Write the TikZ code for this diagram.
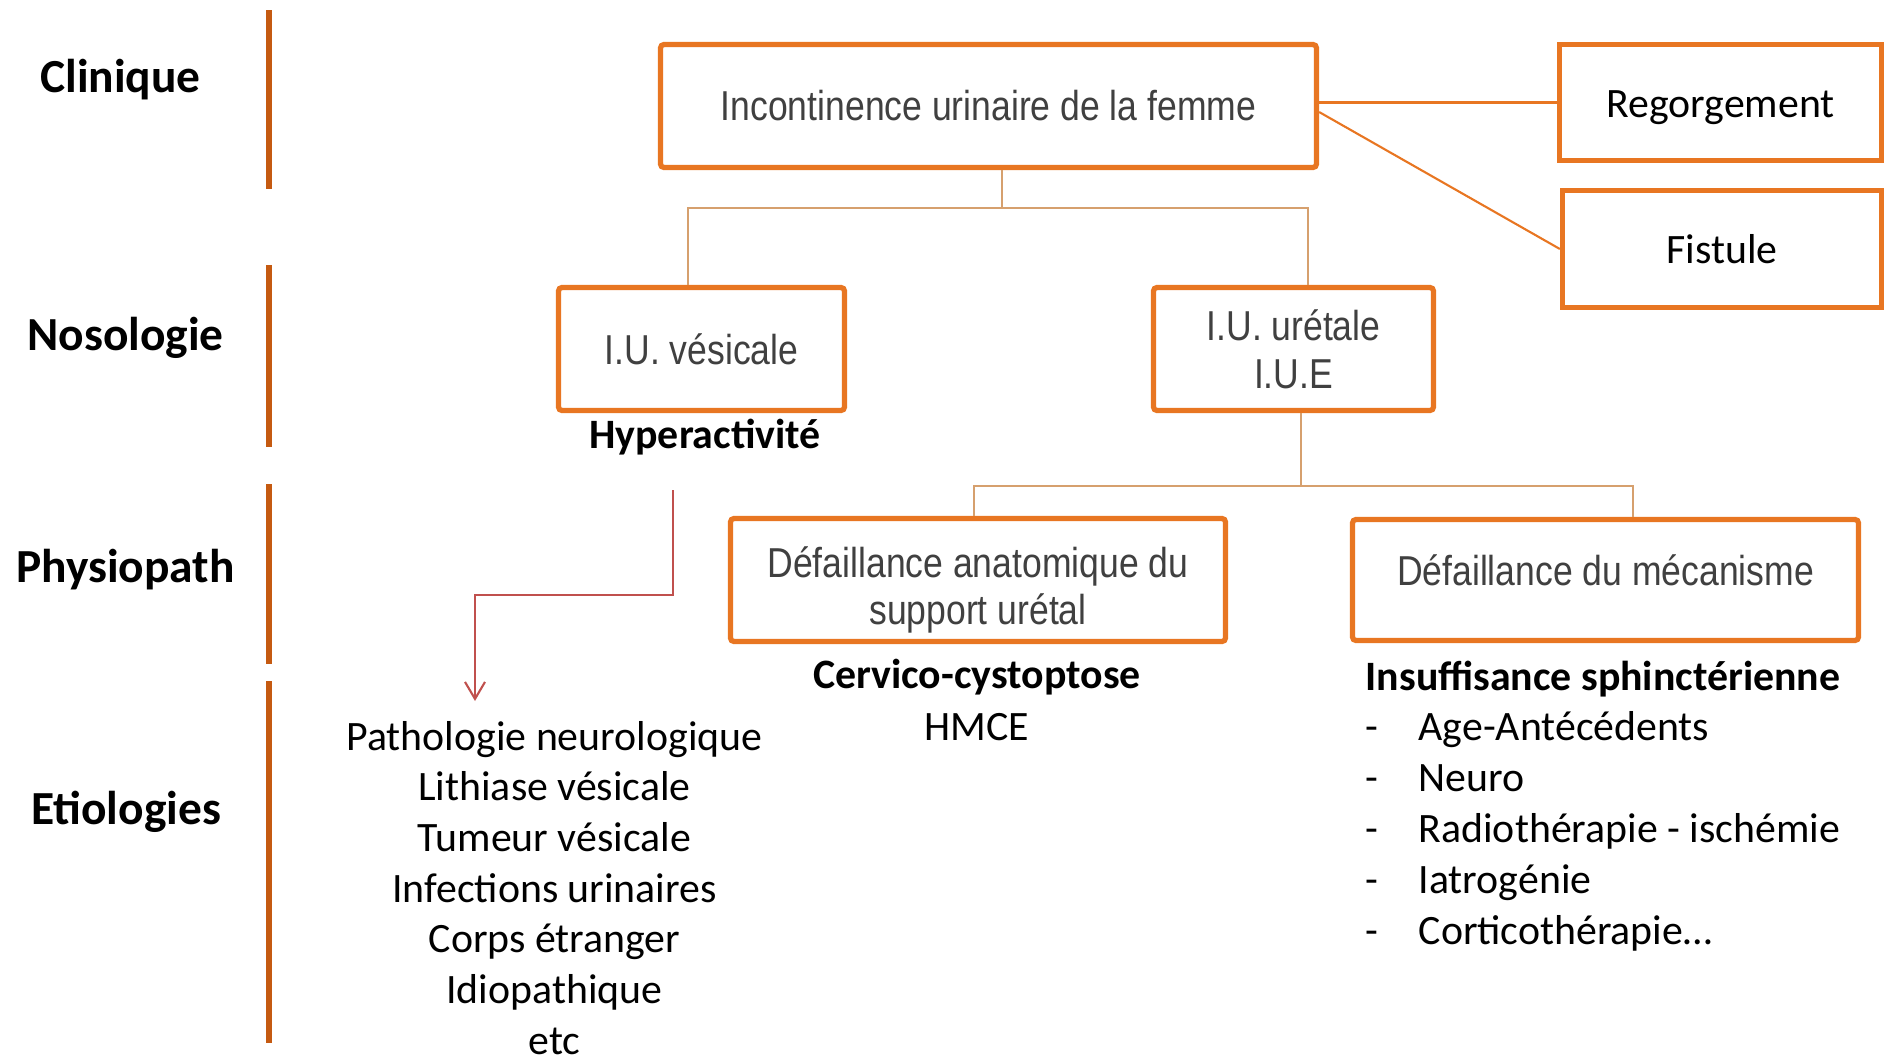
\documentclass[tikz,border=0pt]{standalone}
\usepackage{fontspec}
\setmainfont{Carlito}
\newfontfamily\boxfont[FakeStretch=0.85]{Liberation Sans}
\usetikzlibrary{arrows.meta}
\definecolor{cadre}{RGB}{232,118,34}
\definecolor{lien}{RGB}{214,160,110}
\definecolor{brun}{HTML}{C55A11}
\definecolor{rouge}{HTML}{C0504D}
\definecolor{gristexte}{RGB}{64,64,64}
\tikzset{>/.tip={Straight Barb[length=1.7mm,width=2mm]},
  boite/.style={draw=cadre, line width=1.5pt, rounded corners=1pt, fill=white,
    text=gristexte, align=center, font=\boxfont\fontsize{11.9}{13.6}\selectfont},
  boitecal/.style={draw=cadre, line width=1.5pt, fill=white},
  rubrique/.style={anchor=base, font=\fontsize{13.5}{16}\selectfont\bfseries},
  barre/.style={draw=brun, line width=1.7pt},
  branche/.style={draw=lien, line width=0.6pt},
  renvoi/.style={draw=cadre, line width=0.6pt},
  fleche/.style={->, draw=rouge, line width=0.6pt}}

\begin{document}
\begin{tikzpicture}[font=\fontsize{11.9}{14.3}\selectfont, inner sep=0pt]
 \useasboundingbox (0,0) rectangle (18.84,10.61);

 % rubriques
 \node[rubrique] (clin) at (1.205,9.69) {Clinique};
 \node[rubrique] (noso) at (1.255,7.11) {Nosologie};
 \node[rubrique] (phys) at (1.255,4.79) {Physiopath};
 \node[rubrique] (etio) at (1.26,2.37) {Etiologies};
 \foreach \haut/\bas in {10.51/8.72, 7.96/6.14, 5.77/3.97, 3.80/0.18}
   \draw[barre] (2.69,\haut) -- (2.69,\bas);

 % arbre
 \node[boite, minimum width=6.56cm, minimum height=1.23cm] (iu) at (9.885,9.55) {Incontinence urinaire de la femme};
 \node[boitecal, minimum width=3.22cm, minimum height=1.16cm, text height=0.37cm] (regorg) at (17.205,9.585) {Regorgement};
 \node[boitecal, minimum width=3.19cm, minimum height=1.17cm] (fistule) at (17.22,8.12) {Fistule};
 \node[boite, minimum width=2.86cm, minimum height=1.23cm] (vesicale) at (7.015,7.12) {I.U. vésicale};
 \node[boite, minimum width=2.80cm, minimum height=1.23cm] (uretale) at (12.935,7.12) {I.U. urétale\\I.U.E};
 \node[boite, minimum width=4.95cm, minimum height=1.23cm] (anatom) at (9.78,4.81) {\rule{0pt}{14.4pt}Défaillance anatomique du\\support urétal};
 \node[boite, minimum width=5.06cm, minimum height=1.21cm, text depth=0.2cm] (meca) at (16.055,4.81) {Défaillance du mécanisme};

 \draw[renvoi] (iu.east |- regorg.west) -- (regorg.west);
 \draw[renvoi] ([yshift=-0.06cm]iu.east) -- (fistule.west);

 \coordinate (fourche1) at (10.02,8.53);
 \draw[branche] (iu.south -| fourche1) -- (fourche1);
 \draw[branche] ([xshift=-0.135cm]vesicale.north) |- (fourche1) -| ([xshift=0.145cm]uretale.north);
 \coordinate (fourche2) at (13.01,5.75);
 \draw[branche] (uretale.south -| fourche2) -- (fourche2);
 \draw[branche] ([xshift=-0.04cm]anatom.north) |- (fourche2) -| ([xshift=0.275cm]meca.north);

 % legendes sous les cadres
 \node[anchor=base, font=\fontsize{11.9}{14.3}\selectfont\bfseries] (hyper) at (7.05,6.13) {Hyperactivité};
 \node[anchor=base, font=\fontsize{11.9}{14.3}\selectfont\bfseries] (cervico) at (9.77,3.73) {Cervico-cystoptose};
 \node[anchor=base] (hmce) at (9.77,3.21) {HMCE};
 \node[anchor=base west, font=\fontsize{11.9}{14.3}\selectfont\bfseries] (insuf) at (13.65,3.71) {Insuffisance sphinctérienne};

 % etiologies
 \foreach \ligne [count=\i from 0] in {Pathologie neurologique, Lithiase vésicale, Tumeur vésicale,
     Infections urinaires, Corps étranger, Idiopathique, etc}
   \node[anchor=base] (cause\i) at (5.545,{3.11-0.507*\i}) {\ligne};
 \foreach \ligne [count=\i from 0] in {Age-Antécédents, Neuro, Radiothérapie - ischémie,
     Iatrogénie, Corticothérapie…}
 {
   \node[anchor=base west] (tiret\i) at (13.65,{3.21-0.51*\i}) {-};
   \node[anchor=base west] (facteur\i) at (14.18,{3.21-0.51*\i}) {\ligne};
 }

 \coordinate (depart) at (6.73,5.71);
 \coordinate (arrivee) at (4.75,3.60);
 \draw[fleche] (depart) -- ++(0,-1.05) -| (arrivee);
\end{tikzpicture}
\end{document}
